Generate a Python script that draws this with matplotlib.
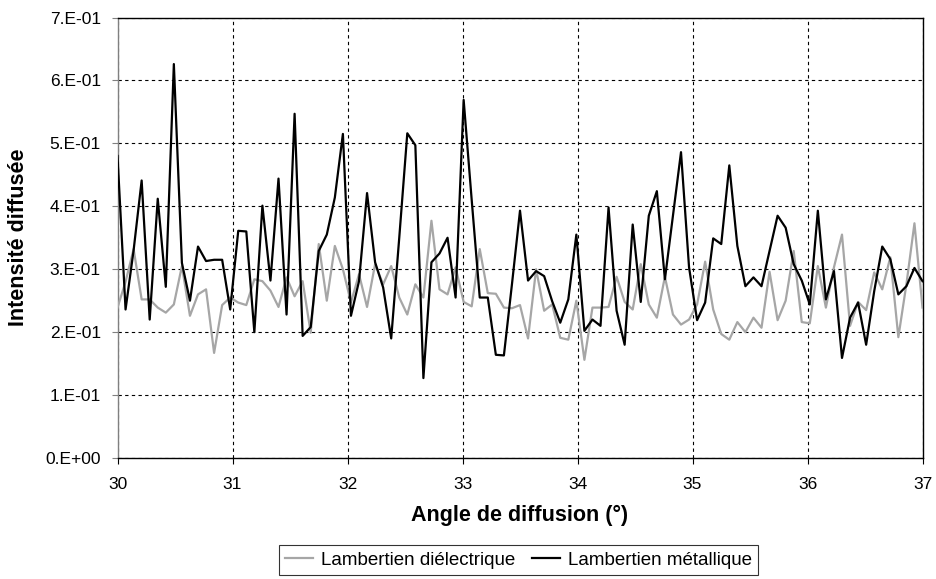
import matplotlib
matplotlib.use("Agg")
import matplotlib.pyplot as plt
import numpy as np

plt.rcParams['font.family'] = ['Liberation Sans', 'DejaVu Sans']

angle_start = 30.0
angle_step = 0.07

dielectrique = [
    0.239, 0.28, 0.332, 0.252, 0.252, 0.239, 0.231, 0.244, 0.305, 0.226,
    0.26, 0.268, 0.167, 0.243, 0.255, 0.247, 0.243, 0.284, 0.281, 0.266,
    0.24, 0.287, 0.257, 0.281, 0.199, 0.34, 0.25, 0.337, 0.30, 0.247,
    0.292, 0.24, 0.308, 0.276, 0.305, 0.255, 0.228, 0.276, 0.255, 0.377,
    0.268, 0.26, 0.303, 0.248, 0.241, 0.332, 0.262, 0.261, 0.239, 0.238,
    0.243, 0.19, 0.30, 0.234, 0.244, 0.191, 0.188, 0.25, 0.156, 0.239,
    0.239, 0.24, 0.288, 0.248, 0.236, 0.308, 0.244, 0.223, 0.288, 0.228,
    0.212, 0.22, 0.244, 0.312, 0.236, 0.197, 0.188, 0.216, 0.20, 0.223,
    0.207, 0.296, 0.219, 0.25, 0.329, 0.216, 0.214, 0.305, 0.239, 0.303,
    0.355, 0.21, 0.248, 0.235, 0.295, 0.268, 0.319, 0.192, 0.276, 0.373,
    0.239,
]

metallique = [
    0.48, 0.236, 0.33, 0.441, 0.22, 0.412, 0.272, 0.626, 0.31, 0.25,
    0.336, 0.313, 0.315, 0.315, 0.236, 0.361, 0.36, 0.20, 0.401, 0.282,
    0.444, 0.228, 0.547, 0.194, 0.208, 0.329, 0.355, 0.414, 0.515, 0.226,
    0.281, 0.421, 0.311, 0.271, 0.19, 0.35, 0.516, 0.497, 0.127, 0.311,
    0.325, 0.35, 0.255, 0.569, 0.41, 0.255, 0.255, 0.164, 0.163, 0.276,
    0.393, 0.282, 0.297, 0.289, 0.249, 0.215, 0.252, 0.355, 0.202, 0.22,
    0.21, 0.398, 0.234, 0.18, 0.371, 0.248, 0.385, 0.424, 0.284, 0.385,
    0.486, 0.303, 0.219, 0.247, 0.349, 0.34, 0.465, 0.337, 0.273, 0.287,
    0.273, 0.329, 0.385, 0.366, 0.308, 0.282, 0.244, 0.393, 0.252, 0.297,
    0.159, 0.223, 0.247, 0.18, 0.265, 0.336, 0.316, 0.26, 0.273, 0.302,
    0.281,
]

x_ticks = [30, 31, 32, 33, 34, 35, 36, 37]
y_ticks = [0.0, 0.1, 0.2, 0.3, 0.4, 0.5, 0.6, 0.7]
y_labels = ["0.E+00", "1.E-01", "2.E-01", "3.E-01", "4.E-01", "5.E-01", "6.E-01", "7.E-01"]

angles = angle_start + angle_step * np.arange(len(metallique))

W, H = 936, 579
fig = plt.figure(figsize=(W / 100, H / 100), dpi=100)
left_px, right_px, top_px, bottom_px = 117.5, 922.5, 17.5, 458.0
ax = fig.add_axes([left_px / W, 1 - bottom_px / H, (right_px - left_px) / W, (bottom_px - top_px) / H])

ax.plot(angles, dielectrique, color='#a6a6a6', lw=1.6, label='Lambertien diélectrique', zorder=3)
ax.plot(angles, metallique, color='black', lw=1.6, label='Lambertien métallique', zorder=4)

ax.set_xlim(30, 37)
ax.set_ylim(0, 0.7)
ax.set_xticks(x_ticks)
ax.set_xticklabels([str(t) for t in x_ticks], fontsize=12.5)
ax.set_yticks(y_ticks)
ax.set_yticklabels(y_labels, fontsize=12.5)
ax.tick_params(axis='x', direction='out', length=4, width=0.8, pad=10)
ax.tick_params(axis='y', direction='out', length=4, width=0.8, pad=8, color='#808080')

ax.grid(True, color='black', linestyle=(0, (3, 3)), linewidth=0.8, zorder=1)
ax.set_axisbelow(True)
ax.spines['left'].set_color('#808080')
for s in ['left', 'bottom', 'right', 'top']:
    ax.spines[s].set_linewidth(1.0)

ax.set_xlabel('Angle de diffusion (°)', fontsize=15.5, fontweight='bold', labelpad=9)
ax.set_ylabel('Intensité diffusée', fontsize=15.5, fontweight='bold', labelpad=12)

leg = fig.legend(loc='upper center', bbox_to_anchor=(518.5 / W, 1 - 545 / H), ncol=2, fontsize=13.5,
                 frameon=True, fancybox=False, edgecolor='black', handlelength=1.5,
                 handletextpad=0.4, columnspacing=0.9, borderpad=0.35, borderaxespad=0)
leg.get_frame().set_linewidth(0.8)

fig.savefig('out.png', dpi=100)
